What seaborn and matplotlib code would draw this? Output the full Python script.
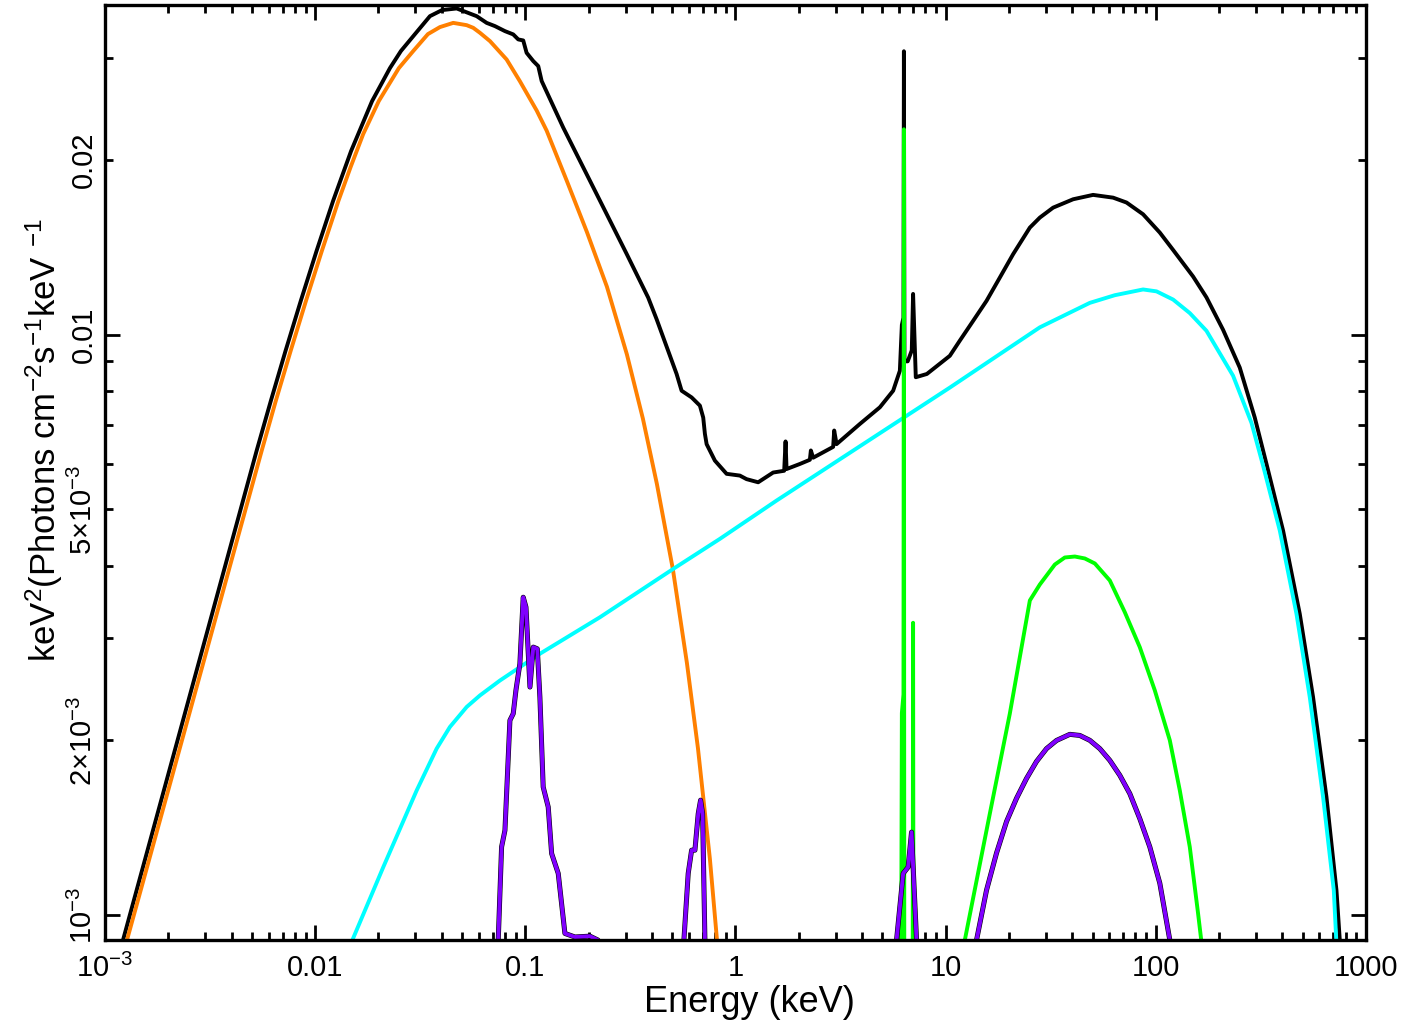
import matplotlib
matplotlib.use("Agg")
import matplotlib.pyplot as plt
import matplotlib.patheffects as pe
import seaborn as sns

# energies in keV, fluxes in keV^2 (photons cm^-2 s^-1 keV^-1)

# total model (black)
total_e = [1.15e-3, 1.214e-3, 5.27e-3, 6.156e-3, 7.232e-3, 8.54e-3, 0.010155, 0.01217, 0.01482,
           0.01865, 0.02269, 0.02559, 0.02985, 0.03516, 0.04011, 0.04712, 0.05866,
           0.06545, 0.07168, 0.07998, 0.08757, 0.09253, 0.09772, 0.1014, 0.1091, 0.1152,
           0.1196, 0.1515, 0.2184, 0.3033, 0.3842, 0.4213, 0.5246, 0.5541, 0.6183, 0.6771,
           0.7023, 0.7153, 0.7289, 0.798, 0.9073, 1.049, 1.129, 1.282, 1.511, 1.705, 1.731,
           1.75, 2.025, 2.259, 2.284, 2.342, 2.916, 2.949, 3.027, 3.907, 4.864, 5.627, 6.055,
           6.19, 6.3, 6.33, 6.37, 6.6, 6.9, 7.0, 7.21, 8.14, 8.72, 10.47, 11.68, 13.52, 15.65,
           18.11, 20.95, 25.16, 28.07, 32.46, 40.42, 50.3, 62.66, 72.56, 87.0, 104.5, 120.9,
           150.5, 174.2, 209.0, 250.9, 295.8, 336.3, 403.3, 484.2, 560.2, 648.8, 723.9, 750.7,
           775.8]
total_f = [8.4e-4, 9.02e-4, 6.32e-3, 7.70e-3, 9.39e-3, 0.01144, 0.01395, 0.01701, 0.02073,
           0.02527, 0.02881, 0.03083, 0.03297, 0.0354, 0.03626, 0.0365, 0.0354,
           0.03447, 0.03403, 0.03336, 0.03293, 0.03228, 0.03215, 0.03061, 0.02962, 0.02904,
           0.02737, 0.02275, 0.01748, 0.01379, 0.01159, 0.01064, 0.00856, 0.00801, 0.0078,
           0.00755, 0.0072, 0.00675, 0.00648, 0.00607, 0.00576, 0.00572, 0.00564, 0.00557,
           0.00579, 0.00583, 0.00655, 0.00587, 0.00599, 0.00609, 0.00632, 0.00614, 0.00641,
           0.00684, 0.00648, 0.00702, 0.0075, 0.00801, 0.00867, 0.0104, 0.0107, 0.0308,
           0.0090, 0.0090, 0.0094, 0.01176, 0.00845, 0.00856, 0.00873, 0.0092, 0.00977,
           0.01057, 0.01144, 0.01255, 0.01377, 0.0153, 0.01592, 0.01656, 0.01712, 0.01742,
           0.01723, 0.0169, 0.01613, 0.0150, 0.0140, 0.0126, 0.0116, 0.0102, 0.00878, 0.0072,
           0.00599, 0.0046, 0.003305, 0.002375, 0.001598, 0.001104, 9.06e-4, 7.4e-4]

# disk blackbody (orange)
disk_e = [1.2e-3, 1.268e-3, 5.57e-3, 6.50e-3, 7.65e-3, 9.04e-3, 0.01076, 0.0129, 0.01475,
          0.01693, 0.02007, 0.02502, 0.02929, 0.0344, 0.03924, 0.04539, 0.05257, 0.05651,
          0.06081, 0.0679, 0.08147, 0.0942, 0.1132, 0.1263, 0.1577, 0.1964, 0.2445, 0.3043,
          0.3626, 0.4228, 0.5039, 0.5873, 0.6627, 0.7555, 0.8157, 0.843]
disk_f = [8.4e-4, 9.02e-4, 6.32e-3, 7.70e-3, 9.39e-3, 0.01144, 0.01395, 0.01701, 0.01946,
          0.02218, 0.02527, 0.02881, 0.03083, 0.03297, 0.0339, 0.03447, 0.03416, 0.0338,
          0.03314, 0.03206, 0.02981, 0.02735, 0.02435, 0.02248, 0.0184, 0.01503, 0.0121,
          0.00925, 0.00717, 0.00553, 0.00394, 0.00272, 0.00194, 0.00125, 9.1e-4, 7.7e-4]

# comptonised power law (cyan)
comp_e = [0.0133, 0.01492, 0.02109, 0.0304, 0.03784, 0.04377, 0.05257, 0.06081, 0.07573,
          0.1173, 0.2263, 0.5055, 0.843, 1.568, 10.47, 16.23, 28.07, 48.53, 63.8, 87.0,
          100.8, 120.9, 145.1, 174.2, 233.2, 285.3, 324.0, 389.0, 467.1, 540.3, 625.2, 702.9,
          722.4, 742.4]
comp_f = [7.7e-4, 9.0e-4, 0.00121, 0.00164, 0.001936, 0.00211, 0.002284, 0.002391, 0.002537,
          0.002821, 0.00326, 0.00395, 0.00445, 0.00518, 0.00811, 0.00902, 0.0103, 0.01135,
          0.0117, 0.01197, 0.01188, 0.0115, 0.0109, 0.01016, 0.0085, 0.00705, 0.00595,
          0.0046, 0.003305, 0.002375, 0.001598, 0.001104, 9.06e-4, 7.4e-4]

# distant reflection + Fe lines (green)
refl_e = [6.12, 6.19, 6.3, 6.33, 6.36, 6.96, 7.0, 7.04, 11.94, 12.34, 16.23, 20.2, 25.16,
          28.07, 33.08, 36.9, 41.18, 45.95, 51.28, 60.42, 71.2, 83.9, 98.9, 116.6, 130.1,
          145.1, 158.9, 164.5, 172.9]
refl_f = [5e-4, 0.00223, 0.0024, 0.0226, 5e-4, 5e-4, 0.00319, 5e-4, 7.4e-4, 9.06e-4,
          0.001496, 0.002224, 0.003485, 0.003713, 0.004019, 0.004133, 0.004149, 0.004117,
          0.004036, 0.003773, 0.003327, 0.002896, 0.00244, 0.002001, 0.00164, 0.001311,
          0.001007, 9.06e-4, 7.88e-4]

# relativistic reflection (purple)
rel_e = [0.07327, 0.07432, 0.0771, 0.07998, 0.08446, 0.08757, 0.09021, 0.0942, 0.09772,
         0.1007, 0.1052, 0.1091, 0.114, 0.1173, 0.1216, 0.1285, 0.1334, 0.1434, 0.1543,
         0.1722, 0.2029, 0.2215, 0.2258, 0.5622, 0.5683, 0.5957, 0.6183, 0.6412, 0.6649,
         0.6823, 0.6974, 0.7153, 0.7233, 5.73, 5.84, 6.278, 6.63, 6.882, 7.271, 7.37, 13.47,
         14.03, 15.65, 17.47, 19.49, 21.75, 24.26, 27.07, 30.2, 33.7, 38.98, 43.5, 48.53,
         54.15, 60.42, 67.4, 75.2, 83.9, 93.65, 104.5, 116.6, 120.5]
rel_f = [7.4e-4, 9.06e-4, 0.001311, 0.0014, 0.002166, 0.002224, 0.00244, 0.002711, 0.00353,
         0.003394, 0.002472, 0.002896, 0.002877, 0.002375, 0.001663, 0.001536, 0.001277,
         0.00118, 9.3e-4, 9.17e-4, 9.2e-4, 9.06e-4, 8.4e-4, 7.4e-4, 9.06e-4, 0.00118,
         0.001294, 0.001294, 0.001496, 0.001578, 0.001496, 9.06e-4, 7.4e-4, 7.4e-4, 9.06e-4,
         0.00118, 0.00121, 0.00139, 9.06e-4, 7.4e-4, 7.4e-4, 9.06e-4, 0.001104, 0.00128,
         0.00145, 0.00159, 0.00172, 0.00184, 0.001936, 0.0020, 0.002049, 0.00204, 0.002001,
         0.001936, 0.001848, 0.001742, 0.00162, 0.001467, 0.001311, 0.001135, 9.06e-4, 7.4e-4]

x_major = [1e-3, 1e-2, 1e-1, 1, 10, 100, 1000]
x_major_labels = ['10$^{-3}$', '0.01', '0.1', '1', '10', '100', '1000']
y_major = [1e-3, 1e-2]
y_major_labels = ['10$^{-3}$', '0.01']
y_minor = [2e-3, 3e-3, 4e-3, 5e-3, 6e-3, 7e-3, 8e-3, 9e-3, 0.02, 0.03]
y_minor_labels = ['2$\\times$10$^{-3}$', '', '', '5$\\times$10$^{-3}$', '', '', '', '', '0.02', '']

sns.set_style("ticks")
fonts = ['Liberation Sans', 'DejaVu Sans']
plt.rcParams['font.family'] = fonts
plt.rcParams['mathtext.fontset'] = 'custom'
plt.rcParams['mathtext.rm'] = fonts[0]
plt.rcParams['mathtext.it'] = fonts[0]
plt.rcParams['mathtext.bf'] = fonts[0]
for key in ['text.color', 'axes.labelcolor', 'xtick.color', 'ytick.color', 'axes.edgecolor']:
    plt.rcParams[key] = 'black'

fig = plt.figure(figsize=(14.04, 10.25), dpi=100)
ax = fig.add_axes([0.0748, 0.0829, 0.8981, 0.9122])
ax.set_xscale('log')
ax.set_yscale('log')

lw = 2.8
sns.lineplot(x=total_e, y=total_f, ax=ax, color='black', lw=lw, estimator=None, sort=False)
sns.lineplot(x=disk_e, y=disk_f, ax=ax, color='#ff8000', lw=lw, estimator=None, sort=False)
sns.lineplot(x=comp_e, y=comp_f, ax=ax, color='#00ffff', lw=lw, estimator=None, sort=False)
sns.lineplot(x=refl_e, y=refl_f, ax=ax, color='#00ff00', lw=lw, estimator=None, sort=False)
sns.lineplot(x=rel_e, y=rel_f, ax=ax, color='#8000ff', lw=lw, estimator=None, sort=False,
             path_effects=[pe.Stroke(linewidth=lw + 0.8, foreground='black'), pe.Normal()])

ax.set_xlim(1e-3, 1000)
ax.set_ylim(9.06e-4, 0.037)

ax.set_xticks(x_major, labels=x_major_labels)
ax.set_xticks([m * d for d in x_major[:-1] for m in range(2, 10)], minor=True)
ax.xaxis.set_minor_formatter(matplotlib.ticker.NullFormatter())
ax.set_yticks(y_major, labels=y_major_labels)
ax.set_yticks(y_minor, labels=y_minor_labels, minor=True)

ax.tick_params(which='both', direction='in', top=True, right=True, width=2, color='black')
ax.tick_params(which='major', length=11)
ax.tick_params(which='minor', length=6)
ax.tick_params(axis='x', which='major', labelsize=21, pad=10)
ax.tick_params(axis='y', which='both', labelsize=21, pad=5, labelrotation=90)
for lab in ax.get_yticklabels(which='both'):
    lab.set_va('center')
for sp in ax.spines.values():
    sp.set_linewidth(2.4)

ax.set_xlabel('Energy (keV)', fontsize=26)
ax.set_ylabel('keV$^{2}$(Photons cm$^{-2}$s$^{-1}$keV $^{-1}$', fontsize=25)
ax.yaxis.set_label_coords(-0.032, 0.535)
ax.xaxis.set_label_coords(0.511, -0.048)

fig.savefig('out.png', dpi=100)
